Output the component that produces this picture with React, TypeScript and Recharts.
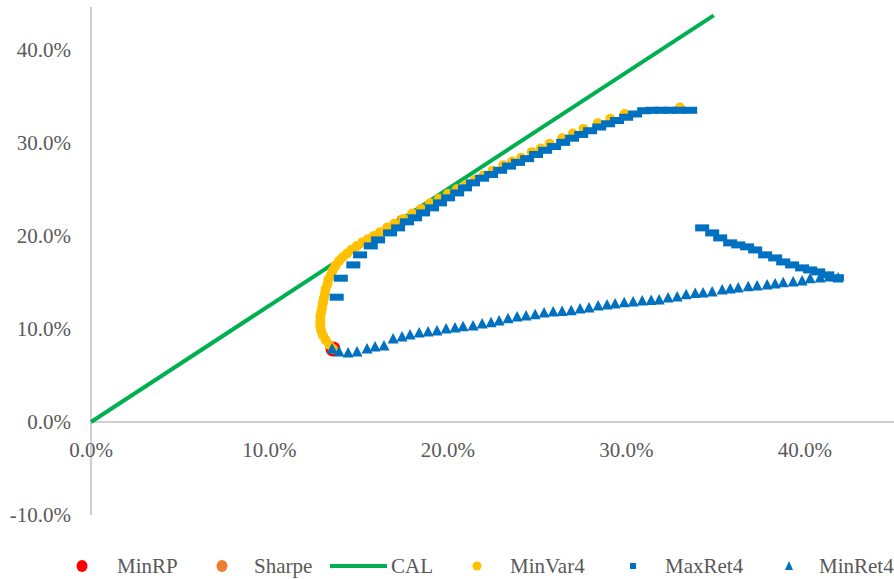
import React from 'react';
import { ScatterChart, Scatter, XAxis, YAxis, ReferenceLine, ReferenceDot } from 'recharts';

// [risk %, return %]
const minRP: [number, number][] = [[13.56, 7.85]];
const sharpe: [number, number][] = [[17.45, 21.65]];
const cal: [number, number][] = [[0, 0], [34.9, 43.7]];
const minVar4: [number, number][] = [
  [13.56, 7.85], [13.35, 8.3], [13.15, 8.8], [13.0, 9.3], [12.9, 9.8], [12.85, 10.3], [12.85, 10.8], [12.85, 11.3],
  [12.9, 11.8], [12.95, 12.3], [13.0, 12.8], [13.05, 13.3], [13.1, 13.8], [13.15, 14.3], [13.25, 14.8], [13.3, 15.3],
  [13.45, 15.8], [13.55, 16.3], [13.7, 16.8], [13.9, 17.3], [14.1, 17.7], [14.35, 18.1], [14.6, 18.5], [14.9, 18.9],
  [15.2, 19.3], [15.5, 19.6], [15.85, 20.0], [16.2, 20.4], [16.6, 20.9], [17.0, 21.3], [17.5, 21.8], [18.0, 22.4],
  [18.5, 22.9], [19.0, 23.5], [19.5, 24.0], [20.0, 24.5], [20.5, 25.0], [21.0, 25.5], [21.5, 26.0], [22.0, 26.5],
  [22.5, 27.0], [23.1, 27.6], [23.6, 28.0], [24.1, 28.4], [24.7, 29.0], [25.2, 29.4], [25.7, 29.9], [26.4, 30.5],
  [27.0, 31.0], [27.6, 31.5], [28.4, 32.1], [29.1, 32.6], [29.9, 33.1], [33.0, 33.8],
];
const maxRet4: [number, number][] = [
  [13.77, 13.41], [14.0, 15.45], [14.7, 16.88], [15.08, 17.96], [15.68, 18.92], [16.09, 19.57], [16.76, 20.32],
  [17.21, 20.86], [17.71, 21.51], [18.16, 21.94], [18.61, 22.47], [19.11, 23.01], [19.56, 23.55], [20.01, 24.09],
  [20.52, 24.62], [20.96, 25.16], [21.41, 25.7], [21.92, 26.2], [22.42, 26.6], [22.93, 27.05], [23.43, 27.5],
  [23.93, 27.9], [24.44, 28.3], [24.94, 28.75], [25.45, 29.2], [25.95, 29.6], [26.46, 30.05], [26.96, 30.5],
  [27.47, 30.9], [27.97, 31.3], [28.48, 31.7], [28.98, 32.05], [29.48, 32.4], [29.99, 32.75], [30.49, 33.1],
  [31.0, 33.45], [31.45, 33.5], [31.95, 33.5], [32.45, 33.5], [32.96, 33.5], [33.58, 33.5],
  [34.25, 20.86], [34.81, 20.32], [35.26, 19.78], [35.82, 19.25], [36.27, 19.03], [36.77, 18.82], [37.22, 18.49],
  [37.78, 17.96], [38.34, 17.63], [38.79, 17.2], [39.29, 16.88], [39.85, 16.56], [40.3, 16.34], [40.75, 16.13],
  [41.26, 15.81], [41.8, 15.5],
];
const minRet4: [number, number][] = [
  [13.51, 7.85], [13.9, 7.53], [14.41, 7.42], [14.91, 7.53], [15.47, 7.85], [15.92, 8.06], [16.42, 8.17],
  [16.93, 8.92], [17.43, 9.14], [17.88, 9.35], [18.39, 9.57], [18.89, 9.68], [19.39, 9.78], [19.9, 10.0],
  [20.4, 10.11], [20.85, 10.22], [21.41, 10.32], [21.92, 10.54], [22.42, 10.65], [22.87, 10.86], [23.37, 11.08],
  [23.88, 11.29], [24.38, 11.4], [24.89, 11.51], [25.39, 11.72], [25.9, 11.83], [26.4, 11.88], [26.91, 11.94],
  [27.41, 12.15], [27.91, 12.26], [28.42, 12.47], [28.92, 12.58], [29.37, 12.69], [29.88, 12.8], [30.38, 12.9],
  [30.89, 13.01], [31.39, 13.06], [31.84, 13.12], [32.34, 13.33], [32.85, 13.44], [33.35, 13.66], [33.86, 13.8],
  [34.3, 13.87], [34.81, 13.98], [35.37, 14.19], [35.82, 14.3], [36.27, 14.41], [36.83, 14.52], [37.33, 14.62],
  [37.89, 14.73], [38.34, 14.84], [38.79, 14.95], [39.35, 15.05], [39.85, 15.16], [40.3, 15.38], [40.86, 15.48],
  [41.37, 15.59], [41.87, 15.48],
];
const xTicks = [0, 10, 20, 30, 40];
const yTicks = [-10, 0, 10, 20, 30, 40];
const legendNames = ['MinRP', 'Sharpe', 'CAL', 'MinVar4', 'MaxRet4', 'MinRet4'];

const toData = (arr: [number, number][]) => arr.map(([x, y]) => ({ x, y }));
const fmt = (v: number) => `${v.toFixed(1)}%`;

const FONT = '"Liberation Serif", "Times New Roman", serif';
const TEXT = '#595959';
const AXIS = '#BFBFBF';
const RED = '#FF0000';
const ORANGE = '#ED7D31';
const GREEN = '#00B050';
const YELLOW = '#FFC000';
const BLUE = '#0070C0';

const circle = (r: number, fill: string) => (props: any) => (
  <circle cx={props.cx} cy={props.cy} r={r} fill={fill} />
);
const Dash = (props: any) => (
  <rect x={props.cx - 7} y={props.cy - 3.5} width={14} height={7} fill={BLUE} />
);
const Tri = (props: any) => {
  const { cx, cy } = props;
  return <polygon points={`${cx},${cy - 6} ${cx - 5.5},${cy + 4.5} ${cx + 5.5},${cy + 4.5}`} fill={BLUE} />;
};
const None = () => <g />;

const Legend = () => {
  const y = 566;
  return (
    <svg width={894} height={579} style={{ position: 'absolute', left: 0, top: 0, pointerEvents: 'none' }}>
      <g fontFamily={FONT} fontSize={21} fill={TEXT}>
        <ellipse cx={82} cy={y} rx={5.5} ry={6} fill={RED} />
        <text x={117} y={y + 7}>{legendNames[0]}</text>
        <ellipse cx={222} cy={y} rx={5.5} ry={6} fill={ORANGE} />
        <text x={254} y={y + 7}>{legendNames[1]}</text>
        <line x1={330} y1={y} x2={387} y2={y} stroke={GREEN} strokeWidth={4} />
        <text x={391} y={y + 7}>{legendNames[2]}</text>
        <circle cx={477} cy={y} r={4.5} fill={YELLOW} />
        <text x={510} y={y + 7}>{legendNames[3]}</text>
        <rect x={630} y={y - 3} width={6} height={6} fill={BLUE} />
        <text x={665} y={y + 7}>{legendNames[4]}</text>
        <polygon points={`789,${y - 5} 785,${y + 4} 793,${y + 4}`} fill={BLUE} />
        <text x={819} y={y + 7}>{legendNames[5]}</text>
      </g>
    </svg>
  );
};

export default function App() {
  return (
    <div style={{ position: 'absolute', left: 0, top: 0, width: 894, height: 579, background: '#fff' }}>
      <ScatterChart width={894} height={579} margin={{ top: 7, right: 0, bottom: 64, left: 0 }}>
        <XAxis type="number" dataKey="x" domain={[0, 45]} hide />
        <YAxis
          type="number"
          dataKey="y"
          domain={[-10, 44.6]}
          allowDataOverflow
          ticks={yTicks}
          tickFormatter={fmt}
          width={91}
          axisLine={{ stroke: AXIS, strokeWidth: 1.5 }}
          tickLine={false}
          tickSize={0}
          tickMargin={20}
          tick={{ fill: TEXT, fontSize: 21, fontFamily: FONT }}
        />
        <ReferenceLine y={0} stroke={AXIS} strokeWidth={1.5} />
        {xTicks.map((t) => (
          <ReferenceDot
            key={t}
            x={t}
            y={0}
            r={0}
            fill="none"
            stroke="none"
            label={{ value: fmt(t), position: 'bottom', offset: 20, fill: TEXT, fontSize: 21, fontFamily: FONT }}
          />
        ))}
        <Scatter name="MinRP" data={toData(minRP)} shape={circle(7.5, RED)} isAnimationActive={false} />
        <Scatter name="Sharpe" data={toData(sharpe)} shape={circle(6, ORANGE)} isAnimationActive={false} />
        <Scatter
          name="CAL"
          data={toData(cal)}
          shape={None}
          line={{ stroke: GREEN, strokeWidth: 4 }}
          isAnimationActive={false}
        />
        <Scatter name="MinVar4" data={toData(minVar4)} shape={circle(5, YELLOW)} isAnimationActive={false} />
        <Scatter name="MaxRet4" data={toData(maxRet4)} shape={Dash} isAnimationActive={false} />
        <Scatter name="MinRet4" data={toData(minRet4)} shape={Tri} isAnimationActive={false} />
      </ScatterChart>
      <Legend />
    </div>
  );
}
